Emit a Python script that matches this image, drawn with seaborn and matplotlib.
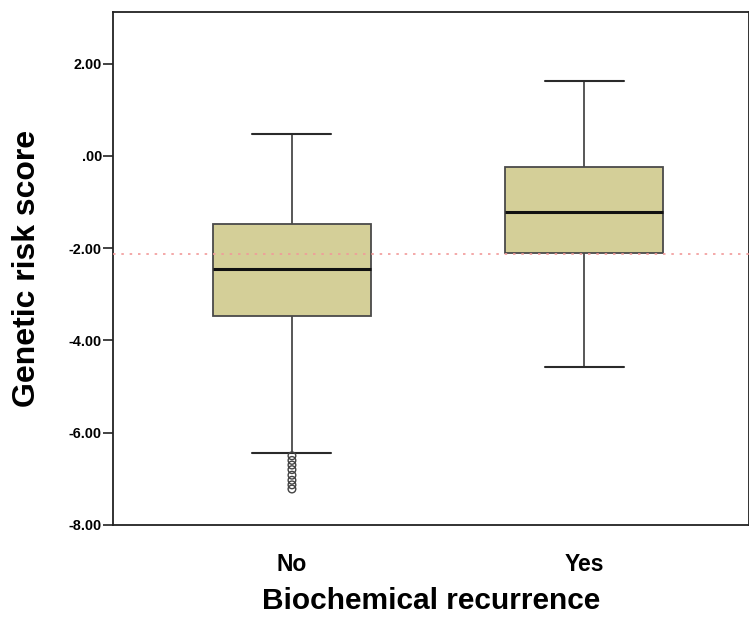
import matplotlib
matplotlib.use("Agg")
import matplotlib.pyplot as plt
from matplotlib.collections import PathCollection
import seaborn as sns
import pandas as pd

# ---- data (five-number summaries + outliers) ----
groups = ["No", "Yes"]
lower_whisker = [-6.43, -4.57]
q1 = [-3.48, -2.10]
median = [-2.45, -1.22]
q3 = [-1.48, -0.25]
upper_whisker = [0.47, 1.62]
outliers_no = [-6.50, -6.60, -6.70, -6.80, -6.92, -7.03, -7.13, -7.22]
reference_line = -2.12
y_ticks = [2.0, 0.0, -2.0, -4.0, -6.0, -8.0]
y_tick_labels = ["2.00", ".00", "-2.00", "-4.00", "-6.00", "-8.00"]

rows = []
for i, g in enumerate(groups):
    for v in (lower_whisker[i], q1[i], median[i], q3[i], upper_whisker[i]):
        rows.append({"group": g, "score": v})
df = pd.DataFrame(rows)
df_out = pd.DataFrame({"group": ["No"] * len(outliers_no), "score": outliers_no})

sns.set_style("white")
plt.rcParams["font.family"] = ["Liberation Sans", "DejaVu Sans"]
plt.rcParams["font.weight"] = "bold"
plt.rcParams["text.color"] = "black"
plt.rcParams["axes.labelcolor"] = "black"
plt.rcParams["xtick.color"] = "black"
plt.rcParams["ytick.color"] = "black"

fig = plt.figure(figsize=(7.49, 6.25), dpi=100)
ax = fig.add_axes([113 / 749, 1 - 525 / 625, 1 - 113 / 749, (525 - 12) / 625])

sns.boxplot(
    data=df, x="group", y="score", order=groups, ax=ax,
    width=0.54, color="#D4CF98", saturation=1, linecolor="#3c3c3c", linewidth=1.3,
    boxprops=dict(edgecolor="#4a4a4a"),
    whiskerprops=dict(color="#4a4a4a", linewidth=1.3),
    capprops=dict(color="#2a2a2a", linewidth=1.5),
    medianprops=dict(color="#111111", linewidth=2.2),
    showfliers=False,
)
sns.stripplot(
    data=df_out, x="group", y="score", order=groups, ax=ax,
    jitter=False, size=5.5, color="#444444", linewidth=1.0,
    edgecolor="#444444", zorder=4,
)
for coll in ax.collections:
    if isinstance(coll, PathCollection):
        coll.set_facecolor("none")
        coll.set_edgecolor("#444444")

ax.axhline(reference_line, color="#F29A9A", linewidth=1.2,
           linestyle=(0, (1.5, 3.5)), zorder=5)

ax.set_xlim(-0.612, 1.563)
ax.set_ylim(-8.0, 3.12)
ax.set_yticks(y_ticks)
ax.set_yticklabels(y_tick_labels)

for s in ax.spines.values():
    s.set_visible(True)
    s.set_color("#222222")
    s.set_linewidth(1.3)

ax.tick_params(axis="y", direction="out", length=7, width=1.2, color="#222222",
               labelcolor="black", pad=1, labelsize=10.4, left=True)
ax.tick_params(axis="x", length=0, pad=20, labelsize=16.5, labelcolor="black")
for lab in ax.get_xticklabels() + ax.get_yticklabels():
    lab.set_fontweight("bold")

ax.set_xlabel("Biochemical recurrence", fontsize=21.5, fontweight="bold",
              labelpad=8, color="black")
ax.set_ylabel("Genetic risk score", fontsize=23, fontweight="bold",
              labelpad=19, color="black")

fig.savefig("out.png", dpi=100)
